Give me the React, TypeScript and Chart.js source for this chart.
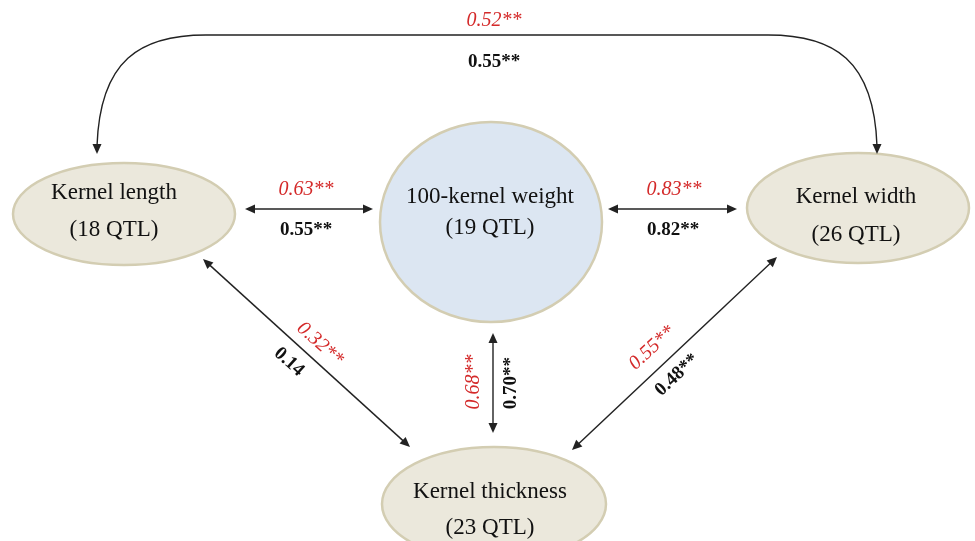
import { useEffect, useRef } from 'react';
import { Chart, registerables } from 'chart.js';
Chart.register(...registerables);

// ---- data ----
const NODE_NAMES = ['Kernel length', '100-kernel weight', 'Kernel width', 'Kernel thickness'];
const NODE_QTL = [18, 19, 26, 23];
const EDGE_PAIRS = [[0, 2], [0, 1], [1, 2], [0, 3], [1, 3], [2, 3]];
const CORR_RED = [0.52, 0.63, 0.83, 0.32, 0.68, 0.55];
const CORR_BLACK = [0.55, 0.55, 0.82, 0.14, 0.70, 0.48];
const STARS_RED = ['**', '**', '**', '**', '**', '**'];
const STARS_BLACK = ['**', '**', '**', '', '**', '**'];

// ---- layout (scale units) ----
const NODE_CX = [124, 491, 858, 494];
const NODE_CY = [214, 222, 208, 504];
const NODE_RX = [111, 111, 111, 112];
const NODE_RY = [51, 100, 55, 57];
const NODE_TX = [114, 490, 856, 490];
const NODE_L1 = [193, 197, 197, 492];
const NODE_L2 = [230, 228, 235, 528];

const EDGE_X1 = [97, 245, 608, 203, 493, 777];
const EDGE_Y1 = [154, 209, 209, 259, 333, 257];
const EDGE_X2 = [877, 373, 737, 410, 493, 572];
const EDGE_Y2 = [154, 209, 209, 447, 433, 450];
const RED_X = [494, 306, 674, 320, 474, 652];
const RED_Y = [21, 190, 190, 344, 382, 348];
const BLK_X = [494, 306, 673, 289, 511, 677];
const BLK_Y = [62, 230, 230, 362, 383, 375];
const LABEL_ROT = [0, 0, 0, 42, -90, -43];
const ARC_Y = 35;

export default function App() {
  const ref = useRef<HTMLCanvasElement | null>(null);
  useEffect(() => {
    if (!ref.current) return;
    const diagram = {
      id: 'diagram',
      beforeDatasetsDraw(chart: any) {
        const { ctx, scales } = chart;
        const sx = (v: number) => scales.x.getPixelForValue(v);
        const sy = (v: number) => scales.y.getPixelForValue(v);
        ctx.save();
        NODE_NAMES.forEach((_, i) => {
          const cx = sx(NODE_CX[i]);
          const cy = sy(NODE_CY[i]);
          const rx = Math.abs(sx(NODE_CX[i] + NODE_RX[i]) - cx);
          const ry = Math.abs(sy(NODE_CY[i] + NODE_RY[i]) - cy);
          ctx.beginPath();
          ctx.ellipse(cx, cy, rx, ry, 0, 0, Math.PI * 2);
          ctx.fillStyle = i === 1 ? '#dce6f2' : '#ebe8dc';
          ctx.fill();
          ctx.lineWidth = 2.5;
          ctx.strokeStyle = '#d3cdb2';
          ctx.stroke();
        });
        ctx.restore();
      },
      afterDatasetsDraw(chart: any) {
        const { ctx, scales } = chart;
        const sx = (v: number) => scales.x.getPixelForValue(v);
        const sy = (v: number) => scales.y.getPixelForValue(v);
        ctx.save();
        // node texts
        ctx.fillStyle = '#111';
        ctx.font = '23px "Liberation Serif", "Times New Roman", serif';
        ctx.textAlign = 'center';
        ctx.textBaseline = 'middle';
        NODE_NAMES.forEach((name, i) => {
          ctx.fillText(name, sx(NODE_TX[i]), sy(NODE_L1[i]));
          ctx.fillText('(' + NODE_QTL[i] + ' QTL)', sx(NODE_TX[i]), sy(NODE_L2[i]));
        });

        const head = (tx: number, ty: number, ang: number) => {
          const L = 10, W = 4.5;
          ctx.beginPath();
          ctx.moveTo(tx, ty);
          ctx.lineTo(tx - L * Math.cos(ang) + W * Math.sin(ang), ty - L * Math.sin(ang) - W * Math.cos(ang));
          ctx.lineTo(tx - L * Math.cos(ang) - W * Math.sin(ang), ty - L * Math.sin(ang) + W * Math.cos(ang));
          ctx.closePath();
          ctx.fill();
        };
        ctx.strokeStyle = '#222';
        ctx.fillStyle = '#222';
        ctx.lineWidth = 1.4;
        EDGE_PAIRS.forEach((_, i) => {
          const x1 = sx(EDGE_X1[i]), y1 = sy(EDGE_Y1[i]);
          const x2 = sx(EDGE_X2[i]), y2 = sy(EDGE_Y2[i]);
          if (i === 0) {
            const top = sy(ARC_Y);
            ctx.beginPath();
            ctx.moveTo(x1, y1 - 8);
            ctx.bezierCurveTo(x1 + 3, top + 25, x1 + 43, top, x1 + 109, top);
            ctx.lineTo(x2 - 109, top);
            ctx.bezierCurveTo(x2 - 43, top, x2 - 3, top + 25, x2, y2 - 8);
            ctx.stroke();
            head(x1, y1, Math.PI / 2);
            head(x2, y2, Math.PI / 2);
          } else {
            const a = Math.atan2(y2 - y1, x2 - x1);
            ctx.beginPath();
            ctx.moveTo(x1 + 8 * Math.cos(a), y1 + 8 * Math.sin(a));
            ctx.lineTo(x2 - 8 * Math.cos(a), y2 - 8 * Math.sin(a));
            ctx.stroke();
            head(x2, y2, a);
            head(x1, y1, a + Math.PI);
          }
          // labels
          const rot = (LABEL_ROT[i] * Math.PI) / 180;
          ctx.save();
          ctx.translate(sx(RED_X[i]), sy(RED_Y[i]));
          ctx.rotate(rot);
          ctx.fillStyle = '#d42a2a';
          ctx.font = 'italic 20px "Liberation Serif", "Times New Roman", serif';
          ctx.fillText(CORR_RED[i].toFixed(2) + STARS_RED[i], 0, 0);
          ctx.restore();
          ctx.save();
          ctx.translate(sx(BLK_X[i]), sy(BLK_Y[i]));
          ctx.rotate(rot);
          ctx.fillStyle = '#111';
          ctx.font = 'bold 19px "Liberation Serif", "Times New Roman", serif';
          ctx.fillText(CORR_BLACK[i].toFixed(2) + STARS_BLACK[i], 0, 0);
          ctx.restore();
        });
        ctx.restore();
      },
    };
    const chart = new Chart(ref.current, {
      type: 'scatter',
      data: {
        datasets: [
          {
            data: NODE_CX.map((x, i) => ({ x, y: NODE_CY[i] })),
            pointRadius: 0,
          },
        ],
      },
      options: {
        animation: false,
        responsive: false,
        layout: { padding: 0 },
        plugins: { legend: { display: false }, tooltip: { enabled: false } },
        scales: {
          x: { type: 'linear', min: 0, max: 975, display: false },
          y: { type: 'linear', min: 0, max: 541, reverse: true, display: false },
        },
      },
      plugins: [diagram],
    });
    return () => chart.destroy();
  }, []);
  return (
    <div style={{ position: 'absolute', left: 0, top: 0, width: 975, height: 541, background: '#fff' }}>
      <canvas ref={ref} width={975} height={541} />
    </div>
  );
}
